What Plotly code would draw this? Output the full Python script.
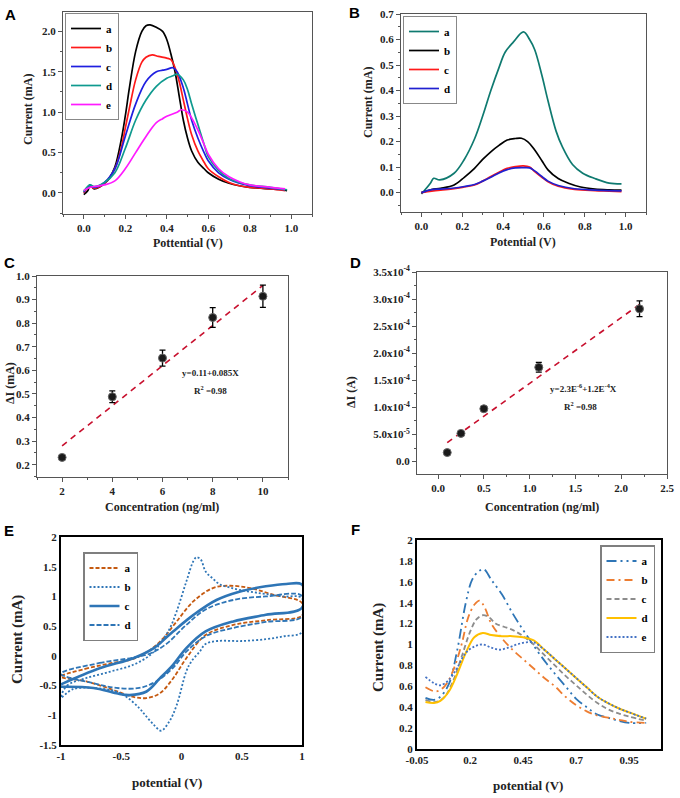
import plotly.graph_objects as go

# ---- panel A: DPV curves -------------------------------------------------
a_names = ["a", "b", "c", "d", "e"]
a_colors = ["#000000", "#ff1a1a", "#1f1fe0", "#0f9a8f", "#ff1aff"]
a_x = [
    [0, 0.02, 0.03, 0.05, 0.08, 0.1, 0.12, 0.15, 0.18, 0.2, 0.22, 0.25, 0.28, 0.3, 0.32, 0.35, 0.38, 0.4,
     0.42, 0.44, 0.46, 0.48, 0.5, 0.52, 0.55, 0.58, 0.6, 0.65, 0.7, 0.75, 0.8, 0.85, 0.9, 0.95, 0.98],
    [0, 0.03, 0.05, 0.1, 0.15, 0.18, 0.2, 0.22, 0.25, 0.28, 0.3, 0.33, 0.36, 0.4, 0.42, 0.44, 0.46, 0.48,
     0.5, 0.52, 0.55, 0.58, 0.6, 0.65, 0.7, 0.75, 0.8, 0.9, 0.97],
    [0, 0.03, 0.05, 0.1, 0.15, 0.2, 0.25, 0.3, 0.35, 0.38, 0.4, 0.43, 0.45, 0.48, 0.5, 0.52, 0.55, 0.58,
     0.6, 0.65, 0.7, 0.75, 0.8, 0.9, 0.97],
    [0, 0.03, 0.05, 0.1, 0.15, 0.2, 0.25, 0.3, 0.35, 0.4, 0.43, 0.45, 0.48, 0.5, 0.52, 0.55, 0.58, 0.6,
     0.65, 0.7, 0.75, 0.8, 0.9, 0.98],
    [0, 0.03, 0.05, 0.1, 0.15, 0.2, 0.25, 0.3, 0.35, 0.38, 0.4, 0.45, 0.47, 0.5, 0.52, 0.55, 0.58, 0.6,
     0.65, 0.7, 0.75, 0.8, 0.9, 0.97],
]
a_y = [
    [-0.02, 0.03, 0.1, 0.05, 0.08, 0.12, 0.17, 0.32, 0.65, 0.95, 1.3, 1.75, 2.0, 2.07, 2.08, 2.05, 2.0, 1.9,
     1.72, 1.5, 1.2, 0.9, 0.68, 0.52, 0.38, 0.3, 0.25, 0.17, 0.12, 0.09, 0.07, 0.06, 0.05, 0.04, 0.03],
    [0.0, 0.08, 0.06, 0.12, 0.3, 0.55, 0.8, 1.05, 1.4, 1.62, 1.68, 1.71, 1.69, 1.67, 1.65, 1.55, 1.38, 1.15,
     0.92, 0.72, 0.52, 0.38, 0.3, 0.2, 0.13, 0.09, 0.07, 0.05, 0.03],
    [0.01, 0.09, 0.07, 0.13, 0.3, 0.7, 1.1, 1.38, 1.5, 1.52, 1.53, 1.55, 1.5, 1.3, 1.1, 0.9, 0.68, 0.5,
     0.4, 0.25, 0.17, 0.12, 0.09, 0.06, 0.04],
    [0.02, 0.1, 0.08, 0.13, 0.25, 0.55, 0.9, 1.15, 1.32, 1.42, 1.45, 1.47, 1.4, 1.28, 1.1, 0.85, 0.6, 0.45,
     0.28, 0.18, 0.13, 0.1, 0.07, 0.04],
    [0.03, 0.07, 0.08, 0.1, 0.15, 0.3, 0.5, 0.7, 0.87, 0.92, 0.95, 1.0, 1.03, 1.0, 0.93, 0.78, 0.6, 0.48,
     0.3, 0.2, 0.14, 0.1, 0.07, 0.05],
]

# ---- panel B ---------------------------------------------------------------
b_names = ["a", "b", "c", "d"]
b_colors = ["#0f7a70", "#000000", "#ff1a1a", "#2020d0"]
b_x = [
    [0, 0.044, 0.06, 0.09, 0.16, 0.21, 0.26, 0.3, 0.34, 0.38, 0.41, 0.45, 0.5, 0.53, 0.555, 0.59, 0.62,
     0.66, 0.69, 0.74, 0.79, 0.85, 0.92, 0.98],
    [0, 0.05, 0.094, 0.16, 0.21, 0.26, 0.3, 0.34, 0.38, 0.42, 0.46, 0.49, 0.52, 0.555, 0.59, 0.62, 0.67,
     0.72, 0.78, 0.85, 0.92, 0.98],
    [0, 0.05, 0.094, 0.16, 0.21, 0.26, 0.3, 0.34, 0.38, 0.42, 0.46, 0.5, 0.53, 0.555, 0.59, 0.62, 0.67,
     0.75, 0.85, 0.92, 0.98],
    [0, 0.05, 0.094, 0.16, 0.21, 0.26, 0.3, 0.34, 0.38, 0.42, 0.46, 0.5, 0.53, 0.555, 0.59, 0.62, 0.67,
     0.75, 0.85, 0.92, 0.98],
]
b_y = [
    [-0.005, 0.037, 0.056, 0.05, 0.076, 0.13, 0.21, 0.3, 0.4, 0.49, 0.55, 0.59, 0.63, 0.6, 0.56, 0.46, 0.36,
     0.24, 0.18, 0.11, 0.076, 0.055, 0.037, 0.034],
    [0.0, 0.012, 0.017, 0.03, 0.06, 0.095, 0.13, 0.16, 0.185, 0.206, 0.212, 0.213, 0.2, 0.167, 0.125,
     0.089, 0.055, 0.037, 0.022, 0.014, 0.011, 0.01],
    [0.0, 0.006, 0.01, 0.015, 0.022, 0.03, 0.045, 0.063, 0.08, 0.095, 0.102, 0.105, 0.1, 0.082, 0.06,
     0.043, 0.025, 0.013, 0.008, 0.006, 0.004],
    [0.0, 0.012, 0.014, 0.018, 0.024, 0.032, 0.045, 0.06, 0.077, 0.09, 0.097, 0.098, 0.097, 0.085, 0.063,
     0.045, 0.028, 0.015, 0.01, 0.008, 0.007],
]

# ---- panel C: calibration (mA) --------------------------------------------
c_conc = [2, 4, 6, 8, 10]
c_di = [0.231, 0.488, 0.652, 0.824, 0.914]
c_err = [0.008, 0.025, 0.034, 0.042, 0.047]
c_fit_x = [2, 10]
c_fit_y = [0.28, 0.96]

# ---- panel D: calibration (A) ---------------------------------------------
d_conc = [0.1, 0.25, 0.5, 1.1, 2.2]
d_di = [1.66e-5, 5.2e-5, 9.75e-5, 1.74e-4, 2.82e-4]
d_err = [1.5e-6, 2e-6, 3e-6, 9e-6, 1.45e-5]
d_fit_x = [0.1, 2.2]
d_fit_y = [3.5e-5, 2.9e-4]
d_tickvals = [0, 5e-5, 1e-4, 1.5e-4, 2e-4, 2.5e-4, 3e-4, 3.5e-4]
d_ticktext = ["0.0", "5.0x10<sup>-5</sup>", "1.0x10<sup>-4</sup>", "1.5x10<sup>-4</sup>",
              "2.0x10<sup>-4</sup>", "2.5x10<sup>-4</sup>", "3.0x10<sup>-4</sup>", "3.5x10<sup>-4</sup>"]

# ---- panel E: cyclic voltammograms -----------------------------------------
e_names = ["a", "b", "c", "d"]
e_x = [
    [-1, -0.8, -0.6, -0.4, -0.26, -0.15, -0.04, 0.1, 0.26, 0.4, 0.57, 0.76, 1,
     1, 0.7, 0.43, 0.2, 0.04, -0.07, -0.18, -0.29, -0.4, -0.57, -0.79, -1],
    [-1, -0.95, -0.8, -0.6, -0.4, -0.25, -0.17, -0.1, -0.04, 0.04, 0.1, 0.125, 0.16, 0.2, 0.26, 0.32, 0.4,
     0.48, 0.6, 0.7, 0.85, 1,
     1, 0.85, 0.7, 0.5, 0.3, 0.2, 0.15, 0.08, 0.04, -0.04, -0.1, -0.17, -0.23, -0.3, -0.35, -0.45, -0.54,
     -0.73, -0.9, -1],
    [-1, -0.68, -0.4, -0.23, -0.07, 0.1, 0.29, 0.48, 0.7, 0.87, 1,
     1, 0.7, 0.43, 0.2, 0.04, -0.07, -0.18, -0.29, -0.43, -0.54, -0.73, -1],
    [-1, -0.68, -0.4, -0.26, -0.12, 0.04, 0.2, 0.43, 0.7, 1,
     1, 0.7, 0.43, 0.2, 0.04, -0.07, -0.21, -0.35, -0.54, -0.73, -1],
]
e_y = [
    [-0.35, -0.22, -0.13, -0.05, 0.1, 0.3, 0.58, 0.92, 1.14, 1.18, 1.14, 1.03, 0.89,
     0.68, 0.6, 0.52, 0.35, -0.04, -0.38, -0.63, -0.71, -0.69, -0.57, -0.43, -0.35],
    [-0.7, -0.5, -0.38, -0.27, -0.15, 0.03, 0.23, 0.45, 0.75, 1.25, 1.6, 1.66, 1.62, 1.42, 1.3, 1.2, 1.15,
     1.11, 1.07, 1.04, 1.0, 0.97,
     0.4, 0.33, 0.28, 0.25, 0.25, 0.2, 0.07, -0.1, -0.26, -0.83, -1.1, -1.26, -1.16, -1.0, -0.88, -0.7,
     -0.6, -0.54, -0.56, -0.7],
    [-0.48, -0.21, -0.04, 0.13, 0.41, 0.69, 0.94, 1.08, 1.17, 1.21, 1.2,
     0.81, 0.69, 0.58, 0.41, 0.13, -0.15, -0.38, -0.6, -0.66, -0.63, -0.54, -0.52],
    [-0.3, -0.12, -0.03, 0.04, 0.21, 0.52, 0.78, 0.94, 1.0, 1.01,
     0.66, 0.57, 0.47, 0.33, 0.07, -0.2, -0.43, -0.54, -0.54, -0.46, -0.3],
]
e_xticks = [-1, -0.5, 0, 0.5, 1]
e_xlabels = ["-1", "-0.5", "0", "0.5", "1"]
e_yticks = [-1.5, -1, -0.5, 0, 0.5, 1, 1.5, 2]
e_ylabels = ["-1.5", "-1", "-0.5", "0", "0.5", "1", "1.5", "2"]

# ---- panel F ---------------------------------------------------------------
f_names = ["a", "b", "c", "d", "e"]
f_x = [
    [-0.01, 0.03, 0.06, 0.1, 0.14, 0.18, 0.21, 0.24, 0.265, 0.3, 0.35, 0.4, 0.44, 0.48, 0.52, 0.56, 0.6,
     0.65, 0.7, 0.75, 0.8, 0.85, 0.9, 0.95, 1.03],
    [-0.01, 0.04, 0.08, 0.12, 0.16, 0.19, 0.22, 0.245, 0.27, 0.3, 0.35, 0.4, 0.45, 0.5, 0.55, 0.6, 0.65,
     0.7, 0.75, 0.8, 0.85, 0.9, 0.95, 1.03],
    [-0.01, 0.04, 0.08, 0.12, 0.16, 0.2, 0.23, 0.26, 0.29, 0.32, 0.36, 0.4, 0.45, 0.5, 0.55, 0.6, 0.65,
     0.7, 0.75, 0.8, 0.85, 0.9, 0.95, 1.03],
    [-0.01, 0.03, 0.06, 0.1, 0.14, 0.18, 0.22, 0.26, 0.3, 0.35, 0.4, 0.45, 0.5, 0.55, 0.6, 0.65, 0.7,
     0.75, 0.8, 0.85, 0.9, 0.95, 1.03],
    [-0.01, 0.03, 0.06, 0.1, 0.14, 0.18, 0.22, 0.26, 0.3, 0.34, 0.38, 0.42, 0.46, 0.5, 0.55, 0.6, 0.65,
     0.7, 0.75, 0.8, 0.85, 0.9, 0.95, 1.03],
]
f_y = [
    [0.49, 0.47, 0.5, 0.62, 0.95, 1.4, 1.62, 1.7, 1.72, 1.62, 1.48, 1.3, 1.17, 1.05, 0.93, 0.82, 0.72,
     0.6, 0.48, 0.4, 0.33, 0.3, 0.27, 0.25, 0.25],
    [0.59, 0.55, 0.6, 0.75, 1.0, 1.25, 1.38, 1.42, 1.35, 1.2, 1.06, 0.95, 0.86, 0.77, 0.68, 0.6, 0.5,
     0.42, 0.36, 0.32, 0.3, 0.28, 0.26, 0.25],
    [0.47, 0.45, 0.5, 0.65, 0.88, 1.12, 1.24, 1.28, 1.26, 1.2, 1.17, 1.14, 1.08, 1.0, 0.9, 0.8, 0.7,
     0.61, 0.52, 0.44, 0.38, 0.34, 0.31, 0.27],
    [0.45, 0.44, 0.46, 0.55, 0.72, 0.92, 1.07, 1.11, 1.09, 1.08, 1.08, 1.07, 1.04, 0.95, 0.86, 0.77,
     0.68, 0.59, 0.5, 0.44, 0.39, 0.35, 0.29],
    [0.69, 0.63, 0.61, 0.66, 0.78, 0.92, 0.98, 1.0, 0.97, 0.95, 0.97, 1.0, 1.02, 1.02, 0.95, 0.86, 0.77,
     0.68, 0.59, 0.5, 0.44, 0.39, 0.35, 0.29],
]
f_xticks = [-0.05, 0.2, 0.45, 0.7, 0.95]
f_xlabels = ["-0.05", "0.2", "0.45", "0.7", "0.95"]


W, H = 680, 798
SERIF = "Liberation Serif"
TICK_FONT = dict(family=SERIF, size=11, color="#222", weight="bold")


def fx(x):
    return x / W


def fy(y):
    return 1 - y / H


def px_x(x0, x1):
    return [fx(x0), fx(x1)]


def px_y(top, bottom):
    return [fy(bottom), fy(top)]


def origin_axis(dom, rng, dtick, minor, anchor, fmt=None):
    ax = dict(
        domain=dom, range=rng, dtick=dtick, anchor=anchor, automargin=False,
        showline=True, linecolor="#555", linewidth=1, mirror=True,
        ticks="outside", ticklen=4, tickcolor="#555",
        minor=dict(ticks="outside", ticklen=2, dtick=minor, tickcolor="#555"),
        showgrid=False, zeroline=False, tickfont=TICK_FONT,
    )
    if fmt:
        ax["tickformat"] = fmt
    return ax


def excel_axis(dom, rng, anchor, tickvals=None, ticktext=None, dtick=None):
    ax = dict(
        domain=dom, range=rng, anchor=anchor, automargin=False,
        showline=True, linecolor="black", linewidth=2, mirror=True,
        ticks="", showgrid=False, zeroline=False, tickfont=TICK_FONT,
    )
    if tickvals is not None:
        ax.update(tickmode="array", tickvals=tickvals, ticktext=ticktext)
    if dtick is not None:
        ax.update(dtick=dtick)
    return ax


fig = go.Figure()

# A
for name, color, xs, ys in zip(a_names, a_colors, a_x, a_y):
    fig.add_trace(go.Scatter(x=xs, y=ys, mode="lines", name=name, line=dict(color=color, width=1.7, shape="spline"),
                             xaxis="x", yaxis="y", legend="legend"))
# B
for name, color, xs, ys in zip(b_names, b_colors, b_x, b_y):
    fig.add_trace(go.Scatter(x=xs, y=ys, mode="lines", name=name, line=dict(color=color, width=1.7, shape="spline"),
                             xaxis="x2", yaxis="y2", legend="legend2"))
# C
fig.add_trace(go.Scatter(x=c_fit_x, y=c_fit_y, mode="lines", line=dict(color="#c8102e", width=1.6, dash="6px,5px"),
                         xaxis="x3", yaxis="y3", showlegend=False))
fig.add_trace(go.Scatter(x=c_conc, y=c_di, mode="markers",
                         marker=dict(color="#1a1a1a", size=8, line=dict(color="#666", width=1)),
                         error_y=dict(type="data", array=c_err, color="black", thickness=1.3, width=3),
                         xaxis="x3", yaxis="y3", showlegend=False))
# D
fig.add_trace(go.Scatter(x=d_fit_x, y=d_fit_y, mode="lines", line=dict(color="#c8102e", width=1.6, dash="6px,5px"),
                         xaxis="x4", yaxis="y4", showlegend=False))
fig.add_trace(go.Scatter(x=d_conc, y=d_di, mode="markers",
                         marker=dict(color="#1a1a1a", size=8, line=dict(color="#666", width=1)),
                         error_y=dict(type="data", array=d_err, color="black", thickness=1.3, width=3),
                         xaxis="x4", yaxis="y4", showlegend=False))
# E
e_styles = [
    dict(color="#c55a11", width=1.8, dash="4px,2px"),
    dict(color="#2e75b6", width=1.8, dash="2px,2px"),
    dict(color="#2e75b6", width=2.6),
    dict(color="#2e75b6", width=1.8, dash="5px,2px"),
]
for name, st, xs, ys in zip(e_names, e_styles, e_x, e_y):
    fig.add_trace(go.Scatter(x=xs, y=ys, mode="lines", name=name, line=dict(shape="spline", **st),
                             xaxis="x5", yaxis="y5", legend="legend3"))
# F
f_styles = [
    dict(color="#2e75b6", width=1.8, dash="10px,4px,2px,4px,2px,4px"),
    dict(color="#ed7d31", width=1.8, dash="8px,4px,2px,4px"),
    dict(color="#8c8c8c", width=1.8, dash="5px,3px"),
    dict(color="#ffc000", width=2),
    dict(color="#4472c4", width=1.8, dash="2px,2px"),
]
for name, st, xs, ys in zip(f_names, f_styles, f_x, f_y):
    fig.add_trace(go.Scatter(x=xs, y=ys, mode="lines", name=name, line=dict(shape="spline", **st),
                             xaxis="x6", yaxis="y6", legend="legend4"))

legend_font = dict(family=SERIF, size=11, color="black", weight="bold")


def legend_at(x, y, border="#888", width=1):
    return dict(x=fx(x), y=fy(y), xanchor="left", yanchor="top", bgcolor="white",
                bordercolor=border, borderwidth=width, font=legend_font,
                tracegroupgap=0, itemwidth=30)


ann_font = dict(family=SERIF, size=12, color="#222", weight="bold")
letter_font = dict(family="Liberation Sans", size=15, color="black", weight="bold")
annotations = []


def text(x, y, s, font, angle=0):
    annotations.append(dict(x=fx(x), y=fy(y), xref="paper", yref="paper", text=s, showarrow=False,
                            font=font, textangle=angle, xanchor="center", yanchor="middle"))


for s, x, y in [("A", 10, 14), ("B", 354, 13), ("C", 9, 262), ("D", 355, 262), ("E", 9, 530), ("F", 355, 529)]:
    text(x, y, s, letter_font)

text(188, 243, "Pottential (V)", ann_font)
text(28, 110, "Current (mA)", ann_font, -90)
text(523, 242, "Potential (V)", ann_font)
text(368, 103, "Current (mA)", ann_font, -90)
text(162, 507, "Concentration (ng/ml)", ann_font)
text(10, 383, "ΔI (mA)", ann_font, -90)
text(542, 507, "Concentration (ng/ml)", ann_font)
text(351, 392, "ΔI (A)", ann_font, -90)
text(167, 782, "potential (V)", dict(ann_font, size=13))
text(17, 640, "Current (mA)", dict(ann_font, size=15), -90)
text(528, 785, "potential (V)", dict(ann_font, size=13))
text(378, 648, "Current (mA)", dict(ann_font, size=15), -90)

small = dict(family=SERIF, size=9, color="#222", weight="bold")
text(210, 373, "y=0.11+0.085X", small)
text(210, 390, "R<sup>2</sup> =0.98", small)
text(583, 388, "y=2.3E<sup>-6</sup>+1.2E<sup>-4</sup>X", small)
text(580, 406, "R<sup>2</sup> =0.98", small)

fig.update_layout(
    template="none",
    width=W, height=H,
    margin=dict(l=0, r=0, t=0, b=0),
    paper_bgcolor="white", plot_bgcolor="white",
    xaxis=origin_axis(px_x(63, 312), [-0.1, 1.1], 0.2, 0.1, "y", ".1f"),
    yaxis=origin_axis(px_y(12, 214), [-0.26, 2.24], 0.5, 0.25, "x", ".1f"),
    xaxis2=origin_axis(px_x(401, 646), [-0.1, 1.1], 0.2, 0.1, "y2", ".1f"),
    yaxis2=origin_axis(px_y(14, 212), [-0.076, 0.7], 0.1, 0.05, "x2", ".1f"),
    xaxis3=origin_axis(px_x(37, 288), [1, 11], 2, 1, "y3"),
    yaxis3=origin_axis(px_y(276, 477), [0.148, 1.0], 0.1, 0.05, "x3", ".1f"),
    xaxis4=origin_axis(px_x(417, 667), [-0.23, 2.5], 0.5, 0.25, "y4", ".1f"),
    yaxis4=dict(origin_axis(px_y(272, 474), [-2.3e-5, 3.5e-4], 5e-5, 2.5e-5, "x4"),
                tickmode="array", tickvals=d_tickvals, ticktext=d_ticktext),
    xaxis5=excel_axis(px_x(61, 302), [-1, 1], "y5", e_xticks, e_xlabels),
    yaxis5=excel_axis(px_y(537, 745), [-1.5, 2], "x5", e_yticks, e_ylabels),
    xaxis6=excel_axis(px_x(417, 661), [-0.05, 1.1], "y6", f_xticks, f_xlabels),
    yaxis6=excel_axis(px_y(540, 749), [0, 2], "x6", dtick=0.2),
    legend=legend_at(65, 13),
    legend2=legend_at(403, 16),
    legend3=legend_at(83, 552, "#7f7f7f", 1.5),
    legend4=legend_at(600, 545, "#7f7f7f", 1.5),
    annotations=annotations,
)

# the page body has an 8px default margin; drop it so the figure sits at the window corner
fig.write_html("out.html", config={"displayModeBar": False},
               post_script="document.body.style.margin = '0';")
